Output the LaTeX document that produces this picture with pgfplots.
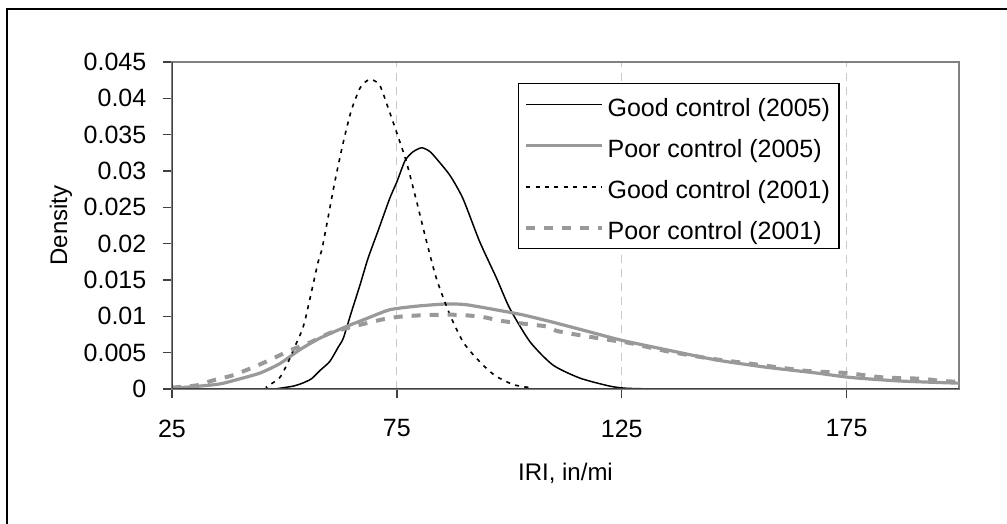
\documentclass[border=0pt]{standalone}
\usepackage{fontspec}
\setmainfont{Liberation Sans}
\usepackage{pgfplots}
\pgfplotsset{compat=1.18}
\definecolor{lgray}{RGB}{153,153,153}
\definecolor{gridc}{RGB}{200,200,200}
\definecolor{axdark}{RGB}{64,64,64}
\newcommand\tfont{\fontsize{12.5}{15}\selectfont}
\begin{document}
\tfont
\begin{tikzpicture}
\useasboundingbox (0,0) rectangle (503.5pt,262pt);
\begin{scope}
\clip (0,0) rectangle (503.5pt,262pt);
\draw[line width=1.2pt] (3.5pt,-20pt) rectangle (540pt,257.5pt);
\end{scope}
\begin{axis}[
  at={(86pt,67.5pt)}, anchor=south west,
  scale only axis, width=393.5pt, height=163.5pt,
  font=\tfont,
  xmin=25, xmax=200, ymin=0, ymax=0.045,
  xtick={25,75,125,175},
  ytick={0,0.005,0.01,0.015,0.02,0.025,0.03,0.035,0.04,0.045},
  scaled y ticks=false,
  /pgf/number format/assume math mode=true,
  yticklabel={\tfont\pgfmathprintnumber[fixed,precision=3,assume math mode=true]{\tick}},
  xticklabel={\tfont\pgfmathprintnumber[assume math mode=true]{\tick}},
  tick label style={font=\tfont},
  xticklabel style={yshift=-6.5pt},
  yticklabel style={xshift=-4pt},
  tick align=outside, major tick length=4.5pt,
  xtick pos=bottom, ytick pos=left,
  tick style={color=axdark, line width=0.7pt},
  axis line style={draw=gray, line width=0.75pt},
  xmajorgrids,
  major x grid style={color=gridc, line width=0.6pt, dash pattern=on 4pt off 3pt},
  xlabel={IRI, in/mi}, ylabel={Density},
  xlabel style={at={(axis description cs:0.5,-0.257)}, anchor=center, font=\fontsize{12}{14}\selectfont},
  ylabel style={at={(axis description cs:-0.141,0.5)}, anchor=center, font=\fontsize{12}{14}\selectfont},
  legend style={at={(axis description cs:0.4397,0.9358)}, anchor=north west,
    draw=black, line width=0.6pt, fill=white, font=\tfont,
    row sep=0.35pt, column sep=0pt, inner xsep=2.75pt, inner ysep=0.5pt,
    nodes={inner sep=1.75pt, text height=14pt, text depth=2.65pt}},
  legend cell align=left,
  legend image code/.code={\draw[#1] (0pt,0pt) -- (38pt,0pt);},
]
\addplot[black, line width=0.75pt, smooth, tension=0.4] coordinates {
(48,0) (49,0.0001) (50,0.0002) (52,0.0004) (54,0.0008) (56,0.0014) (58,0.0026)
(60.1,0.0038) (62,0.0058) (63.1,0.0070) (64.9,0.0106) (66.8,0.0143) (68.6,0.0180)
(70.9,0.0219) (73.4,0.0262) (75,0.0285) (76.8,0.0314) (78.5,0.0326) (80.5,0.0332)
(82.3,0.0327) (83.8,0.0317) (86.8,0.0294) (89.7,0.0262) (93.4,0.0203) (97.2,0.0152)
(100.1,0.0111) (104.6,0.0065) (109.7,0.0033) (115.7,0.0015) (122.3,0.0004)
(126,0.0001) (132,0)
};
\addlegendentry{Good control (2005)}
\addplot[lgray, line width=1.6pt, smooth, tension=0.4] coordinates {
(25,0.0001) (31.2,0.0004) (35.7,0.0007) (40.1,0.0014) (44.6,0.0022) (49,0.0035)
(53.4,0.0054) (57.9,0.0070) (63.8,0.0086) (68.3,0.0097) (73.4,0.0109) (79.4,0.0114)
(86,0.0117) (90.4,0.0116) (97.9,0.0108) (103,0.0102) (109,0.0093) (116.4,0.0081)
(125,0.0067) (134.9,0.0054) (146,0.0040) (157.1,0.0030) (168.3,0.0022)
(175.7,0.0016) (186.8,0.0011) (200,0.0008)
};
\addlegendentry{Poor control (2005)}
\addplot[black, line width=0.8pt, dash pattern=on 2pt off 2.7pt, smooth, tension=0.4] coordinates {
(25,0) (45,0) (46,0.0003) (49,0.0016) (51.2,0.0042) (52,0.0054) (53.8,0.0079)
(54.6,0.0095) (55.7,0.0125) (57.5,0.0175) (58.3,0.0191) (59.4,0.0226) (61.2,0.0285)
(63.1,0.0340) (64.9,0.0384) (66.8,0.0414) (68.3,0.0424) (69.4,0.0426) (71.2,0.0418)
(73,0.0388) (74.9,0.0354) (77.1,0.0313) (79.4,0.0258) (81.6,0.0203) (83.8,0.0152)
(86.8,0.0102) (89.7,0.0065) (92.3,0.0045) (95,0.0028) (97.2,0.0017) (100.9,0.0006)
(104.6,0.0002) (110,0) (200,0)
};
\addlegendentry{Good control (2001)}
\addplot[lgray, line width=2pt, dash pattern=on 4.5pt off 4.5pt, smooth, tension=0.4] coordinates {
(25,0.0002) (30.5,0.0005) (34.2,0.0012) (38.6,0.0019) (43.1,0.0030) (46.8,0.0040)
(51.2,0.0053) (55.7,0.0064) (60.1,0.0077) (65.3,0.0086) (72,0.0096) (76.4,0.0100)
(83.1,0.0102) (89,0.0102) (94.2,0.0099) (97.9,0.0094) (103,0.0090) (108.3,0.0086)
(110.5,0.0080) (115.7,0.0074) (123.8,0.0066) (127,0.0063) (135,0.0052) (144.6,0.0042)
(153.4,0.0035) (166,0.0025) (174.9,0.0022) (183,0.0016) (192,0.0014) (196,0.0011)
(200,0.0010)
};
\addlegendentry{Poor control (2001)}
\draw[axdark, line width=0.9pt] (rel axis cs:0,1) -- (rel axis cs:0,0) -- (rel axis cs:1,0);
\end{axis}
\end{tikzpicture}
\end{document}
